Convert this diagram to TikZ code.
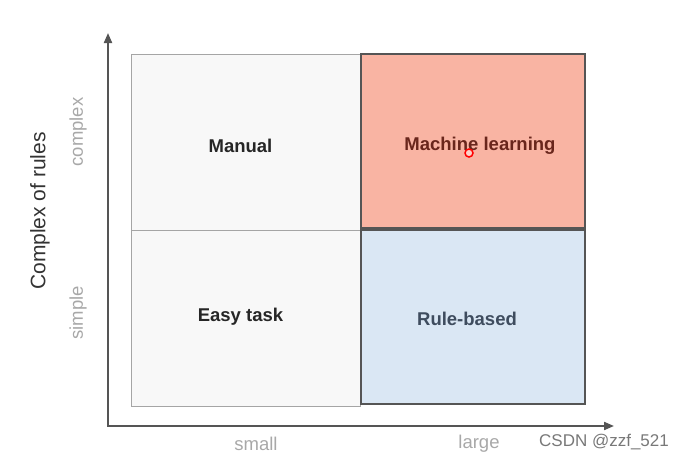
\documentclass[tikz,border=0pt]{standalone}
\usepackage{fontspec}
\setmainfont{Liberation Sans}
\usetikzlibrary{arrows.meta}
\definecolor{cellfill}{RGB}{248,248,248}
\definecolor{cellline}{RGB}{165,165,165}
\definecolor{boxline}{RGB}{85,85,85}
\definecolor{mlred}{RGB}{249,180,163}
\definecolor{mltext}{RGB}{105,38,28}
\definecolor{rbblue}{RGB}{218,231,244}
\definecolor{rbtext}{RGB}{62,76,94}
\definecolor{axiscol}{RGB}{85,85,85}
\definecolor{levelcol}{RGB}{168,168,168}
\definecolor{wmgray}{RGB}{120,120,120}
\tikzset{
	quad/.style     = {shape=rectangle, draw=cellline, fill=cellfill, line width=1pt},
	hot/.style      = {quad, draw=boxline, line width=2pt, fill=mlred},
	cool/.style     = {quad, draw=boxline, line width=2pt, fill=rbblue},
	celltext/.style = {font=\fontsize{18.5}{22}\selectfont\bfseries, text=black!85},
	axisline/.style = {draw=axiscol, line width=2pt,
		{Triangle[length=10pt,width=8pt]}-{Triangle[length=10pt,width=8pt]}},
	level/.style    = {font=\fontsize{18.5}{22}\selectfont, text=levelcol}
}

\begin{document}
\begin{tikzpicture}[x=1pt, y=-1pt]
	\useasboundingbox (0,0) rectangle (689,463);

	% the four quadrants
	\node [quad, minimum width=229pt, minimum height=176pt] (manual) at (245.5,142) {};
	\node [quad, minimum width=229pt, minimum height=176pt] (easy) at (245.5,318) {};
	\node [hot, minimum width=224pt, minimum height=174pt] (ml) at (473,141) {};
	\node [cool, minimum width=224pt, minimum height=174pt] (rule) at (473,317) {};

	% their texts
	\node [celltext] (manualtext) at ([shift={(-5,4)}]manual.center) {Manual};
	\node [celltext] (easytext) at ([shift={(-5,-1)}]easy.center) {Easy task};
	\node [celltext, text=mltext] (mltext) at ([shift={(7,5)}]ml.center) {Machine learning};
	\node [celltext, text=rbtext] (ruletext) at ([shift={(-6,2)}]rule.center) {Rule-based};
	\node [circle, draw=red, line width=1.5pt, fill=mlred!60, minimum size=8pt, inner sep=0pt] (pointer) at (469,153) {};

	% axes
	\coordinate (origin) at (108,426);
	\coordinate (ytop) at (108,33);
	\coordinate (xend) at (614,426);
	\draw [axisline] (ytop) -- (origin) -- (xend);

	% axis labels
	\node [font=\fontsize{21}{24}\selectfont, text=black!80, rotate=90] (ytitle) at (40,211) {Complex of rules};
	\node [level, rotate=90] (complex) at (78,132) {complex};
	\node [level, rotate=90] (simple) at (78,313) {simple};
	\node [level] (small) at (256,444) {small};
	\node [level] (large) at (479,444) {large};

	\node [font=\fontsize{17}{20}\selectfont, text=wmgray] (mark) at (604,442) {CSDN @zzf\_521};
\end{tikzpicture}
\end{document}
